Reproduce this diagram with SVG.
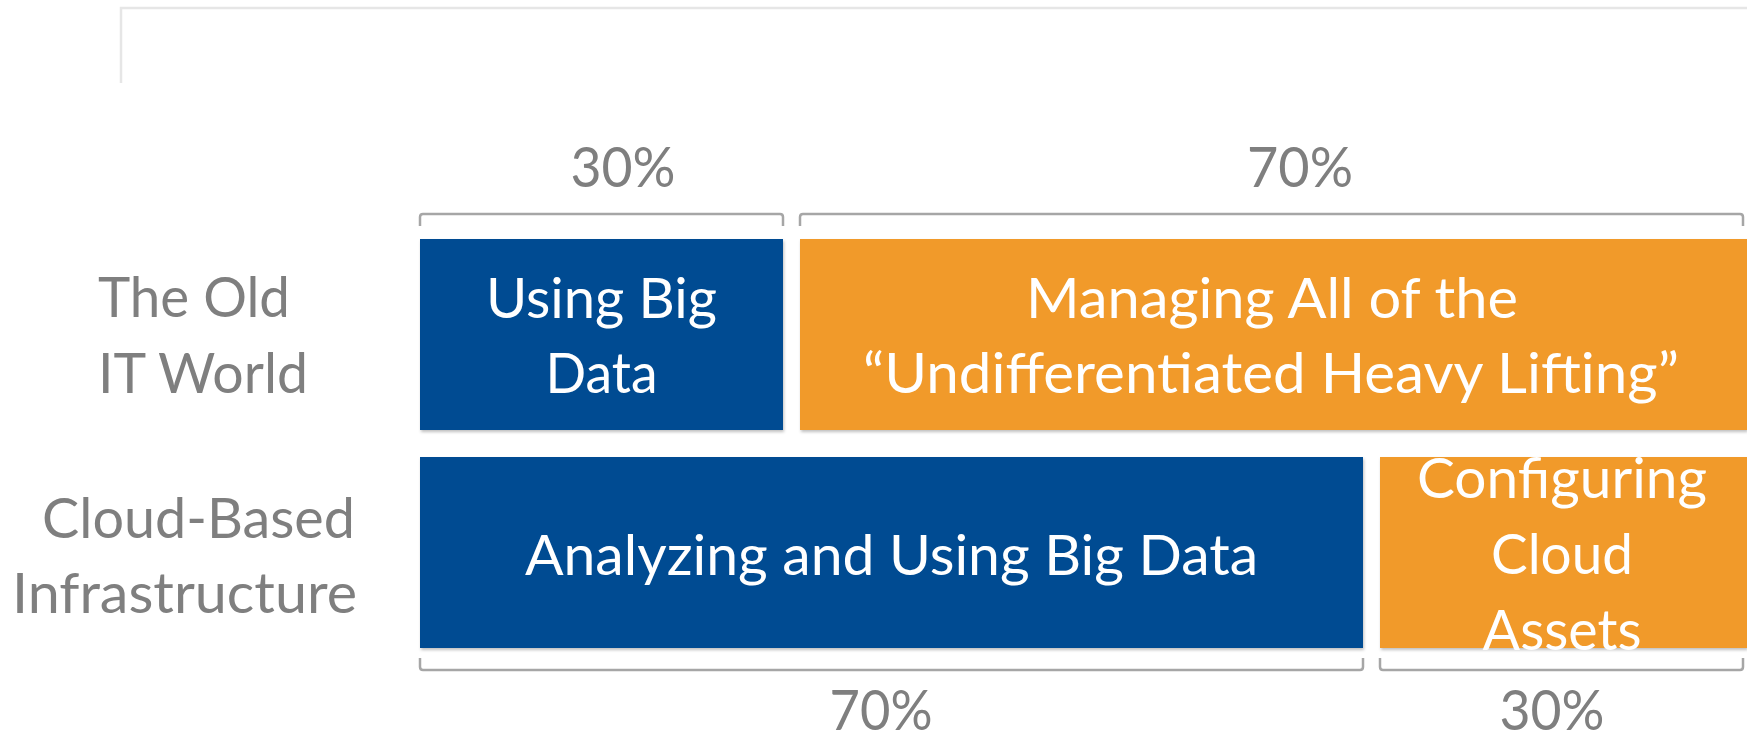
<svg xmlns="http://www.w3.org/2000/svg" width="1747" height="739" viewBox="0 0 1747 739">
<defs>
<style>
.t{font-family:Lato,"Open Sans","Liberation Sans",sans-serif;font-size:56px;}
.w{fill:#ffffff;text-anchor:middle;}
.g{fill:#7f7f7f;}
.pc{fill:#7f7f7f;text-anchor:middle;}
.br{fill:none;stroke:#a6a6a6;stroke-width:2.5;stroke-linejoin:round;}
.blue{fill:#044c92;}
.orange{fill:#f19a2a;}
.frame{fill:none;stroke:#e6e6e6;stroke-width:2.5;}
</style>
<filter id="sh" x="-5%" y="-5%" width="110%" height="115%">
<feDropShadow dx="1" dy="2" stdDeviation="1.5" flood-color="#000" flood-opacity="0.25"/>
</filter>
</defs>
<rect width="1747" height="739" fill="#ffffff"/>
<path class="frame" d="M121,83 V8 H1747"/>

<g id="labels">
<text class="t g" x="98" y="317" textLength="192" lengthAdjust="spacingAndGlyphs">The Old</text>
<text class="t g" x="98" y="393" textLength="210" lengthAdjust="spacingAndGlyphs">IT World</text>
<text class="t g" x="42" y="538" textLength="313" lengthAdjust="spacingAndGlyphs">Cloud-Based</text>
<text class="t g" x="12" y="613" textLength="345" lengthAdjust="spacingAndGlyphs">Infrastructure</text>
</g>

<g id="connectors">
<path class="br" d="M420,226 V217 Q420,214 423,214 H780 Q783,214 783,217 V226"/>
<path class="br" d="M800,226 V217 Q800,214 803,214 H1740 Q1743,214 1743,217 V226"/>
<path class="br" d="M420,658 V667 Q420,670 423,670 H1360 Q1363,670 1363,667 V658"/>
<path class="br" d="M1380,658 V667 Q1380,670 1383,670 H1740 Q1743,670 1743,667 V658"/>
</g>

<g id="pct-top-30"><text class="t pc" x="623" y="187" textLength="105" lengthAdjust="spacingAndGlyphs">30%</text></g>
<g id="pct-top-70"><text class="t pc" x="1300" y="187" textLength="106" lengthAdjust="spacingAndGlyphs">70%</text></g>
<g id="pct-bot-70"><text class="t pc" x="881" y="730" textLength="103" lengthAdjust="spacingAndGlyphs">70%</text></g>
<g id="pct-bot-30"><text class="t pc" x="1552" y="730" textLength="105" lengthAdjust="spacingAndGlyphs">30%</text></g>

<g id="old-using">
<rect class="blue" x="420" y="239" width="363" height="191" filter="url(#sh)"/>
<text class="t w" x="601.5" y="318" textLength="231" lengthAdjust="spacingAndGlyphs">Using Big</text>
<text class="t w" x="601.5" y="393" textLength="112" lengthAdjust="spacingAndGlyphs">Data</text>
</g>

<g id="old-managing">
<rect class="orange" x="800" y="239" width="947" height="191" filter="url(#sh)"/>
<text class="t w" x="1272" y="318" textLength="492" lengthAdjust="spacingAndGlyphs">Managing All of the</text>
<text class="t w" x="1271" y="393" textLength="816" lengthAdjust="spacingAndGlyphs">“Undifferentiated Heavy Lifting”</text>
</g>

<g id="cloud-analyzing">
<rect class="blue" x="420" y="457" width="943" height="191" filter="url(#sh)"/>
<text class="t w" x="891.5" y="575" textLength="733" lengthAdjust="spacingAndGlyphs">Analyzing and Using Big Data</text>
</g>

<g id="cloud-configuring">
<rect class="orange" x="1380" y="457" width="367" height="191" filter="url(#sh)"/>
<text class="t w" x="1562" y="498" textLength="290" lengthAdjust="spacingAndGlyphs">Configuring</text>
<text class="t w" x="1562" y="574" textLength="142" lengthAdjust="spacingAndGlyphs">Cloud</text>
<text class="t w" x="1562" y="650" textLength="159" lengthAdjust="spacingAndGlyphs">Assets</text>
</g>
</svg>
